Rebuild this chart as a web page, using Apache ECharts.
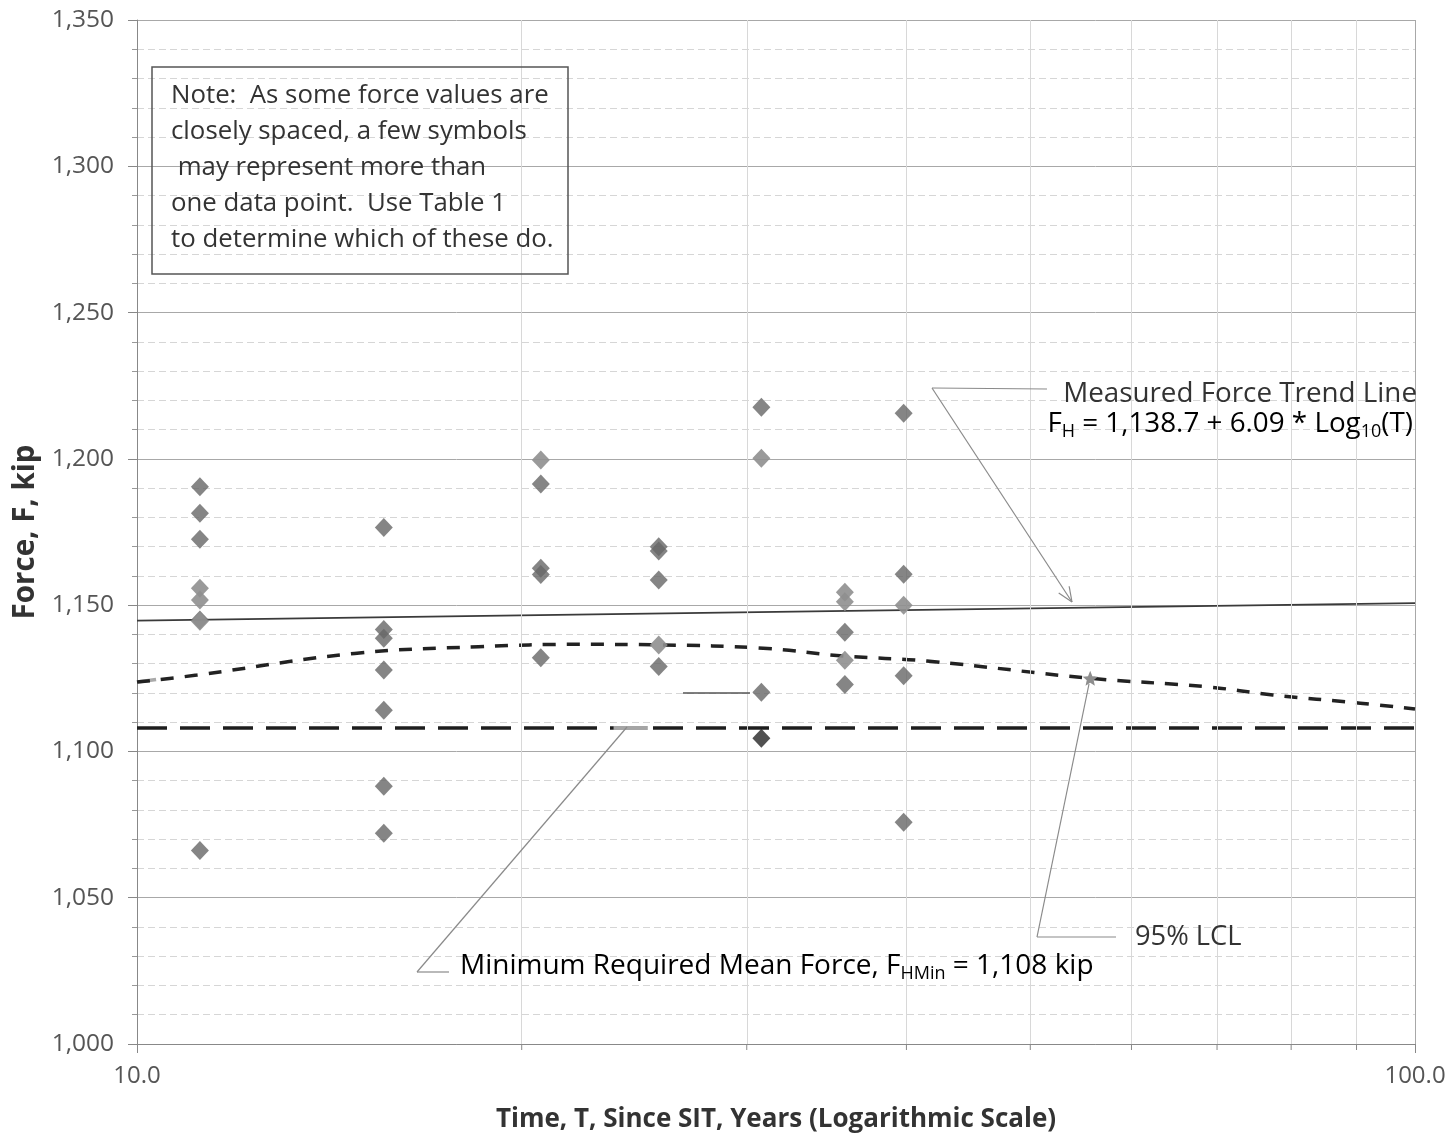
<!DOCTYPE html>
<html><head><meta charset="utf-8">
<script src="https://cdn.jsdelivr.net/npm/echarts@6/dist/echarts.min.js"></script>
<style>html,body{margin:0;padding:0;background:#fff}#c{width:1450px;height:1139px}</style>
</head><body><div id="c"></div>
<script>
const FONT = '"Open Sans", Lato, sans-serif';

// Measured forces (kip) vs. time since SIT (years) - darker symbols
const darkT = [11.2,11.2,11.2,11.2,11.2,
               15.6,15.6,15.6,15.6,15.6,15.6,15.6,
               20.7,20.7,20.7,20.7,
               25.6,25.6,25.6,25.6,
               30.8,30.8,
               35.8,35.8,
               39.8,39.8,39.8,39.8];
const darkF = [1190.5,1181.4,1172.5,1144.9,1066.1,
               1176.5,1141.7,1138.7,1127.8,1114.1,1088.1,1072.0,
               1191.4,1162.6,1160.5,1132.0,
               1170.0,1168.5,1158.6,1129.0,
               1217.6,1120.2,
               1140.7,1122.9,
               1215.6,1160.6,1125.9,1075.8];
// Overlapping / lighter symbols
const lightT = [11.2,11.2,11.2,20.7,25.6,30.8,35.8,35.8,35.8,39.8];
const lightF = [1155.8,1151.8,1144.5,1199.6,1136.4,1200.2,1154.4,1151.2,1131.2,1150.0];
// Below minimum (black symbol)
const lowT = [30.8];
const lowF = [1104.5];

// Measured force trend line (end points)
const trendT = [10, 100];
const trendF = [1144.7, 1150.7];
// 95% lower confidence limit curve
const lclT = [10, 11.14, 14.8, 18.5, 22.2, 25.7, 30.9, 35.7, 41.5, 55.7, 68.7, 77.4, 90.6, 100];
const lclF = [1123.7, 1126.1, 1133.5, 1135.8, 1136.6, 1136.4, 1135.3, 1132.6, 1130.9, 1125.0, 1122.1, 1119.3, 1116.5, 1114.5];
// Minimum required mean force
const minT = [10, 100];
const minF = [1108, 1108];
// Light highlight segments
const lclStartT = [10, 10.35];
const lclStartF = [1123.7, 1124.6];
const minHiT = [23.6, 25.1];
const minHiF = [1108, 1108];
// Star marker on LCL (leader end)
const lclMarkT = 55.7, lclMarkF = 1125.0;

// Axis setup values
const yMin = 1000, yMax = 1350, yStep = 50;
const xMin = 10, xMax = 100;
const xMinorGrid = [20, 30, 40, 50, 60, 70, 80, 90];

const zip = (a, b) => a.map((v, i) => [v, b[i]]);

const chart = echarts.init(document.getElementById('c'), null, {renderer: 'canvas'});

const option = {
  animation: false,
  backgroundColor: '#fff',
  grid: {left: 137, right: 35, top: 20, bottom: 95, containLabel: false},
  xAxis: {
    type: 'log', logBase: 10, min: xMin, max: xMax,
    axisLine: {show: true, lineStyle: {color: '#888', width: 1}},
    axisTick: {show: true, length: 9, lineStyle: {color: '#888'}},
    axisLabel: {formatter: v => Number(v).toFixed(1), fontFamily: FONT, fontSize: 24, color: '#555', margin: 20},
    splitLine: {show: true, lineStyle: {color: '#a8a8a8', width: 1}},
    name: 'Time, T, Since SIT, Years (Logarithmic Scale)',
    nameLocation: 'middle', nameGap: 63,
    nameTextStyle: {fontFamily: FONT, fontSize: 26, fontWeight: 'bold', color: '#333'}
  },
  yAxis: {
    type: 'value', min: yMin, max: yMax, interval: yStep,
    axisLine: {show: true, lineStyle: {color: '#888', width: 1}},
    axisTick: {show: true, length: 9, lineStyle: {color: '#888'}},
    minorTick: {show: true, splitNumber: 5, length: 5, lineStyle: {color: '#999'}},
    axisLabel: {formatter: v => v.toLocaleString('en-US'), fontFamily: FONT, fontSize: 24.5, color: '#555', margin: 23},
    splitLine: {show: true, lineStyle: {color: '#a8a8a8', width: 1}},
    minorSplitLine: {show: true, lineStyle: {color: '#d6d6d6', width: 1, type: [7, 4]}},
    name: 'Force, F, kip', nameLocation: 'middle', nameGap: 93,
    nameTextStyle: {fontFamily: FONT, fontSize: 29.5, fontWeight: 'bold', color: '#333'}
  },
  series: [
    {
      name: 'Minor grid', type: 'line', data: [], silent: true, z: 1,
      markLine: {
        silent: true, symbol: ['none', 'none'], label: {show: false},
        lineStyle: {color: '#d8d8d8', width: 1, type: 'solid'},
        data: xMinorGrid.map(v => ({xAxis: v}))
      }
    },
    {
      name: 'Trend', type: 'line', data: zip(trendT, trendF), showSymbol: false, symbol: 'none',
      lineStyle: {color: '#3a3a3a', width: 1.6}, z: 3, silent: true
    },
    {
      name: 'LCL start', type: 'line', data: zip(lclStartT, lclStartF), symbol: 'none',
      lineStyle: {color: '#aaa', width: 3.5}, z: 3, silent: true
    },
    {
      name: '95% LCL', type: 'line', data: zip(lclT, lclF), smooth: 0.4, symbol: 'none',
      lineStyle: {color: '#222', width: 3.5, type: [13, 11]}, z: 3, silent: true,
      markPoint: {
        silent: true,
        symbol: 'path://M10,0 L12.9,7 L20,7.6 L14.6,12.3 L16.2,19.5 L10,15.6 L3.8,19.5 L5.4,12.3 L0,7.6 L7.1,7 Z',
        symbolSize: 15, itemStyle: {color: '#8e8e8e'}, label: {show: false},
        data: [{coord: [lclMarkT, lclMarkF]}]
      }
    },
    {
      name: 'Minimum', type: 'line', data: zip(minT, minF), symbol: 'none',
      lineStyle: {color: '#1e1e1e', width: 3.4, type: [30, 13]}, z: 3, silent: true
    },
    {
      name: 'Min highlight', type: 'line', data: zip(minHiT, minHiF), symbol: 'none',
      lineStyle: {color: '#a5a5a5', width: 4}, z: 4, silent: true
    },
    {
      name: 'Measured', type: 'scatter', data: zip(darkT, darkF), symbol: 'diamond', symbolSize: [18, 19],
      itemStyle: {color: '#676767'}, z: 5
    },
    {
      name: 'Measured (overlap)', type: 'scatter', data: zip(lightT, lightF), symbol: 'diamond', symbolSize: [18, 19],
      itemStyle: {color: '#8f8f8f', opacity: 0.9}, z: 6
    },
    {
      name: 'Below minimum', type: 'scatter', data: zip(lowT, lowF), symbol: 'diamond', symbolSize: [18, 19],
      itemStyle: {color: '#252525'}, z: 6
    }
  ]
};
chart.setOption(option);

// ---- annotations (pixel-space, placed after layout) ----
const yAxisBottom = chart.convertToPixel({yAxisIndex: 0}, yMin);
const lead = '#8a8a8a';
const txt = '#333';
function line(x1, y1, x2, y2, color, w) {
  return {type: 'line', silent: true, z: 20, shape: {x1, y1, x2, y2}, style: {stroke: color || lead, lineWidth: w || 1.2}};
}
function arrowHead(x1, y1, x2, y2, len, ang) {
  const a = Math.atan2(y2 - y1, x2 - x1);
  const out = [];
  [ang, -ang].forEach(d => {
    out.push(line(x2, y2, x2 - len * Math.cos(a + d), y2 - len * Math.sin(a + d)));
  });
  return out;
}
const graphics = [];
// minor x ticks below axis
xMinorGrid.forEach(v => {
  const px = chart.convertToPixel({xAxisIndex: 0}, v);
  graphics.push(line(px, yAxisBottom, px, yAxisBottom + 6, '#888', 1));
});
// note box
graphics.push({type: 'rect', silent: true, z: 20, shape: {x: 152, y: 67, width: 416, height: 207},
  style: {fill: 'transparent', stroke: '#555', lineWidth: 1.5}});
graphics.push({type: 'text', silent: true, z: 21, left: 171, top: 78,
  style: {text: 'Note:  As some force values are\nclosely spaced, a few symbols\n may represent more than\none data point.  Use Table 1\nto determine which of these do.',
    font: '25.8px ' + FONT, fill: txt, lineHeight: 36}});
// trend line label + leader
graphics.push(line(932, 388, 1047, 389));
graphics.push(line(932, 388, 1072, 602));
arrowHead(932, 388, 1072, 602, 16, 0.4).forEach(g => graphics.push(g));
graphics.push({type: 'text', silent: true, z: 21, right: 33, top: 376,
  style: {text: 'Measured Force Trend Line', font: '27.8px ' + FONT, fill: txt, lineHeight: 36}});
graphics.push({type: 'text', silent: true, z: 21, right: 37, top: 410,
  style: {text: '{m|F}{s|H}{m| = 1,138.7 + 6.09 * Log}{s|10}{m|(T)}',
    rich: {m: {fontSize: 27.8, fontFamily: FONT, color: txt, lineHeight: 34},
           s: {fontSize: 18, fontFamily: FONT, color: txt, lineHeight: 15, verticalAlign: 'bottom'}}}});
// LCL label + leader
graphics.push(line(1037, 937, 1116, 937));
graphics.push(line(1037, 937, 1089, 684));
graphics.push({type: 'text', silent: true, z: 21, left: 1135, top: 920,
  style: {text: '95% LCL', font: '27.3px ' + FONT, fill: txt, lineHeight: 34}});
// Minimum label + leader
graphics.push(line(417, 972, 449, 972));
graphics.push(line(417, 972, 627, 727));
graphics.push(line(683, 693, 750, 693, '#555', 1.4));
graphics.push({type: 'text', silent: true, z: 21, left: 460, top: 952,
  style: {text: '{m|Minimum Required Mean Force, F}{s|HMin}{m| = 1,108 kip}',
    rich: {m: {fontSize: 28, fontFamily: FONT, color: txt, lineHeight: 34},
           s: {fontSize: 18, fontFamily: FONT, color: txt, lineHeight: 15, verticalAlign: 'bottom'}}}});

chart.setOption({graphic: graphics});
</script></body></html>
